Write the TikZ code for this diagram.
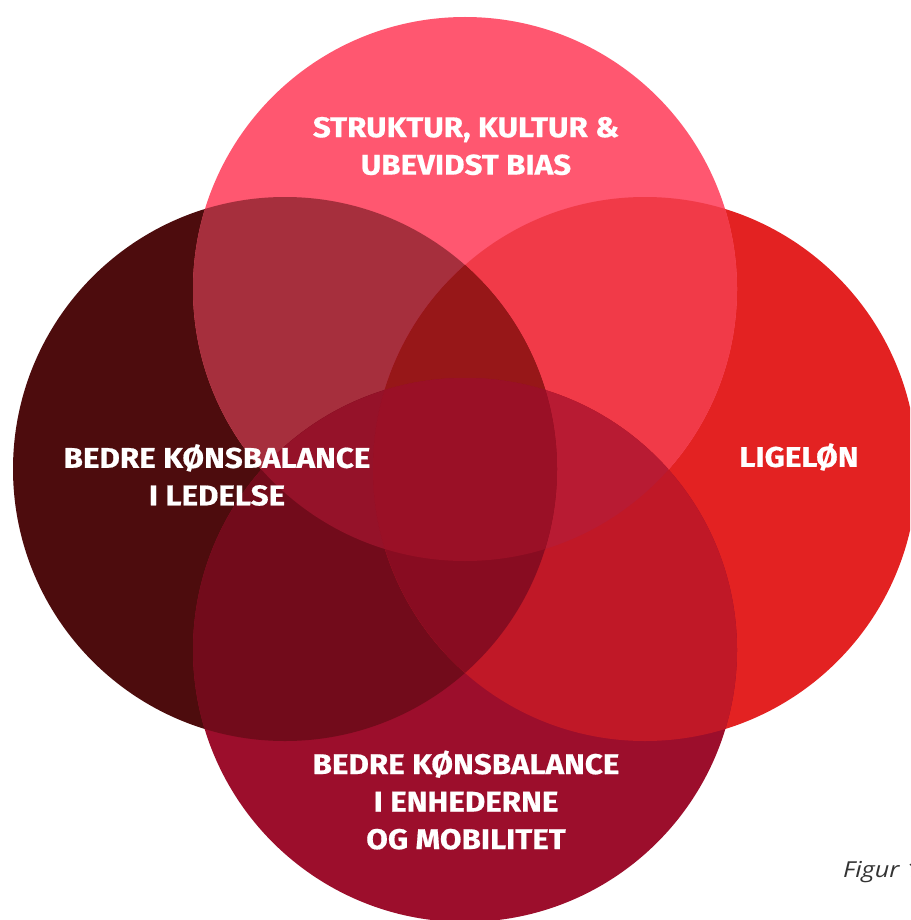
\documentclass[tikz,border=0pt]{standalone}
\usepackage{fontspec}
\setmainfont{Fira Sans}
\newfontfamily\labelfont{Fira Sans}[UprightFont=* Bold, FakeStretch=1.1, FakeBold=0.6]
\newfontfamily\capfont{Open Sans}[FakeStretch=1.15]
\definecolor{cTop}{HTML}{FF5770}
\definecolor{cLeft}{HTML}{4D0C0D}
\definecolor{cRight}{HTML}{E32222}
\definecolor{cBottom}{HTML}{9C0E2C}
\definecolor{cTL}{HTML}{A62F3D}
\definecolor{cTR}{HTML}{F13A48}
\definecolor{cLB}{HTML}{720B1B}
\definecolor{cRB}{HTML}{C01827}
\definecolor{cTB}{HTML}{9A1026}
\definecolor{cLR}{HTML}{880C21}
\definecolor{cTLR}{HTML}{971718}
\definecolor{cTLB}{HTML}{951229}
\definecolor{cTRB}{HTML}{B81B33}
\definecolor{cLRB}{HTML}{880C21}
\definecolor{cAll}{HTML}{9A1026}
\begin{document}
\begin{tikzpicture}[x=1pt,y=-1pt,
  lbl/.style={text=white,font=\labelfont\fontsize{28.5}{37.5}\selectfont,align=center,inner sep=0pt},
  figcaption/.style={text=black!80,font=\capfont\itshape\fontsize{22}{26}\selectfont,anchor=base west,inner sep=0pt}]
\clip (0,0) rectangle (910,920);
\useasboundingbox (0,0) rectangle (910,920);
\def\rad{272pt}
% circle centres
\coordinate (T) at (465,289);
\coordinate (L) at (285,469);
\coordinate (R) at (645,469);
\coordinate (B) at (465,650);
% single circles
\fill[cLeft]   (L) circle[radius=\rad];
\fill[cRight]  (R) circle[radius=\rad];
\fill[cBottom] (B) circle[radius=\rad];
\fill[cTop]    (T) circle[radius=\rad];
% pairwise overlaps
\begin{scope}\clip (T) circle[radius=\rad]; \fill[cTL] (L) circle[radius=\rad]; \end{scope}
\begin{scope}\clip (T) circle[radius=\rad]; \fill[cTR] (R) circle[radius=\rad]; \end{scope}
\begin{scope}\clip (T) circle[radius=\rad]; \fill[cTB] (B) circle[radius=\rad]; \end{scope}
\begin{scope}\clip (L) circle[radius=\rad]; \fill[cLR] (R) circle[radius=\rad]; \end{scope}
\begin{scope}\clip (L) circle[radius=\rad]; \fill[cLB] (B) circle[radius=\rad]; \end{scope}
\begin{scope}\clip (R) circle[radius=\rad]; \fill[cRB] (B) circle[radius=\rad]; \end{scope}
% triple overlaps
\begin{scope}\clip (T) circle[radius=\rad]; \clip (L) circle[radius=\rad]; \fill[cTLR] (R) circle[radius=\rad]; \end{scope}
\begin{scope}\clip (T) circle[radius=\rad]; \clip (L) circle[radius=\rad]; \fill[cTLB] (B) circle[radius=\rad]; \end{scope}
\begin{scope}\clip (T) circle[radius=\rad]; \clip (R) circle[radius=\rad]; \fill[cTRB] (B) circle[radius=\rad]; \end{scope}
\begin{scope}\clip (L) circle[radius=\rad]; \clip (R) circle[radius=\rad]; \fill[cLRB] (B) circle[radius=\rad]; \end{scope}
% all four
\begin{scope}\clip (T) circle[radius=\rad]; \clip (L) circle[radius=\rad]; \clip (R) circle[radius=\rad]; \fill[cAll] (B) circle[radius=\rad]; \end{scope}
% labels
\node[lbl] (tTop)    at (466,146) {STRUKTUR, KULTUR \&\\UBEVIDST BIAS};
\node[lbl] (tLeft)   at (217,475) {BEDRE KØNSBALANCE\\I LEDELSE};
\node[lbl] (tRight)  at (799,457) {LIGELØN};
\node[lbl] (tBottom) at (466,800) {BEDRE KØNSBALANCE\\I ENHEDERNE\\OG MOBILITET};
\node[figcaption] (fig) at (843,877) {Figur 1};
\end{tikzpicture}
\end{document}
